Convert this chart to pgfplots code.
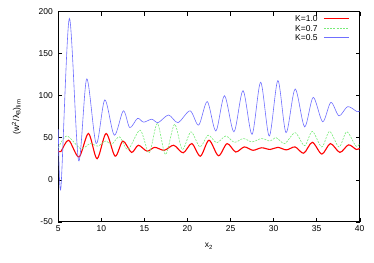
\documentclass[border=0pt]{standalone}
\usepackage{fontspec}
\setmainfont{Liberation Sans}
\usepackage{pgfplots}
\pgfplotsset{compat=1.18}
\definecolor{cred}{RGB}{255,0,0}
\definecolor{cgreen}{RGB}{120,235,120}
\definecolor{cblue}{RGB}{110,110,255}
\definecolor{cblueb}{RGB}{111,111,254}
\begin{document}
\begin{tikzpicture}
\begin{axis}[
  scale only axis, width=301.4pt, height=210pt,
  xmin=5, xmax=40, ymin=-50, ymax=200,
  xtick={5,10,...,40}, ytick={-50,0,...,200},
  tick align=inside, major tick length=4pt,
  tick style={black, line width=0.4pt},
  axis line style={black, line width=0.5pt},
  /pgf/number format/assume math mode=true,
  tick label style={font=\fontsize{8.5}{10}\selectfont},
  yticklabel style={xshift=-2pt},
  xlabel={x\textsubscript{2}},
  ylabel={(w\textsuperscript{2}/λ\textsubscript{B})\textsubscript{lim}},
  every axis x label/.style={at={(axis description cs:0.5,-0.116)}, anchor=center, font=\fontsize{8.5}{10}\selectfont},
  every axis y label/.style={at={(axis description cs:-0.139,0.5)}, anchor=center, rotate=90, font=\fontsize{8.5}{10}\selectfont},
  clip=false,
]
\addplot[color=cred, line width=1.1pt, smooth] coordinates {
(5.0,34.5) (5.3,33.5) (6.2,47) (7.4,27) (8.5,55) (9.5,25) (10.55,55) (11.6,28)
(12.5,46) (13.5,32.5) (14.3,41) (15.3,34) (16.2,38.5) (17.3,35) (18.4,41)
(19.5,32) (20.5,43) (21.5,28) (22.5,47) (23.6,28.5) (24.6,43) (25.6,33)
(26.6,39) (27.6,35) (28.6,38) (29.6,36) (30.5,38.5) (31.5,35.5) (32.5,39)
(33.5,31.5) (34.5,44.5) (35.6,30.5) (36.6,43) (37.7,32.5) (38.7,41.5)
(39.6,36) (40,37.5)
};
\addplot[color=cgreen, line width=0.6pt, dash pattern=on 2pt off 1.2pt, smooth] coordinates {
(5.0,38) (6.0,52) (7.6,37) (8.7,43) (9.6,40) (10.5,46) (11.2,42) (12.1,51)
(13.1,36) (14.5,59) (15.55,32) (16.5,67) (17.45,30) (18.5,66) (19.4,36)
(20.4,57) (21.45,39) (22.4,53) (23.4,44) (24.45,52) (25.45,44.5) (26.5,49)
(27.5,45) (28.6,49) (29.6,46) (30.3,50) (31.3,43) (32.5,56) (33.6,40.5)
(34.5,57.5) (35.6,39) (36.5,57.5) (37.6,39) (38.5,57) (39.55,40) (40,43)
};
\addplot[color=cblue, line width=0.6pt, smooth] coordinates {
(5.0,60) (5.3,-10) (6.28,192) (7.35,23) (8.3,120) (9.4,43) (10.4,95) (11.5,53)
(12.55,82) (13.3,62) (14.2,73) (14.9,68.5) (15.85,72) (16.6,68) (17.8,77)
(18.9,68) (20.3,82) (21.3,65) (22.3,93) (23.3,58) (24.3,100) (25.4,57)
(26.45,106) (27.5,54) (28.5,116) (29.5,52) (30.5,118) (31.45,56) (32.5,108)
(33.6,63) (34.6,98) (35.7,69) (36.65,92) (37.6,76) (38.6,87) (39.7,81) (40,82)
};
% legend samples
\addplot[color=cred, line width=1.1pt] coordinates {(35.84,192.25) (38.74,192.25)};
\addplot[color=cgreen, line width=0.6pt, dash pattern=on 2pt off 1.2pt] coordinates {(35.84,180.25) (38.74,180.25)};
\addplot[color=cblueb, line width=0.6pt] coordinates {(35.84,169.0) (38.74,169.0)};
\begin{scope}[every node/.style={font=\fontsize{8.5}{10}\selectfont, inner sep=0pt, anchor=east, text=black}]
\node at (rel axis cs:0.861,0.969) {K=1.0};
\node at (rel axis cs:0.861,0.921) {K=0.7};
\node at (rel axis cs:0.861,0.876) {K=0.5};
\end{scope}
\end{axis}
\path (current axis.south west) ++(-58.3pt,-40.3pt);
\path (current axis.north east) ++(14.3pt,11.7pt);
\end{tikzpicture}
\end{document}
